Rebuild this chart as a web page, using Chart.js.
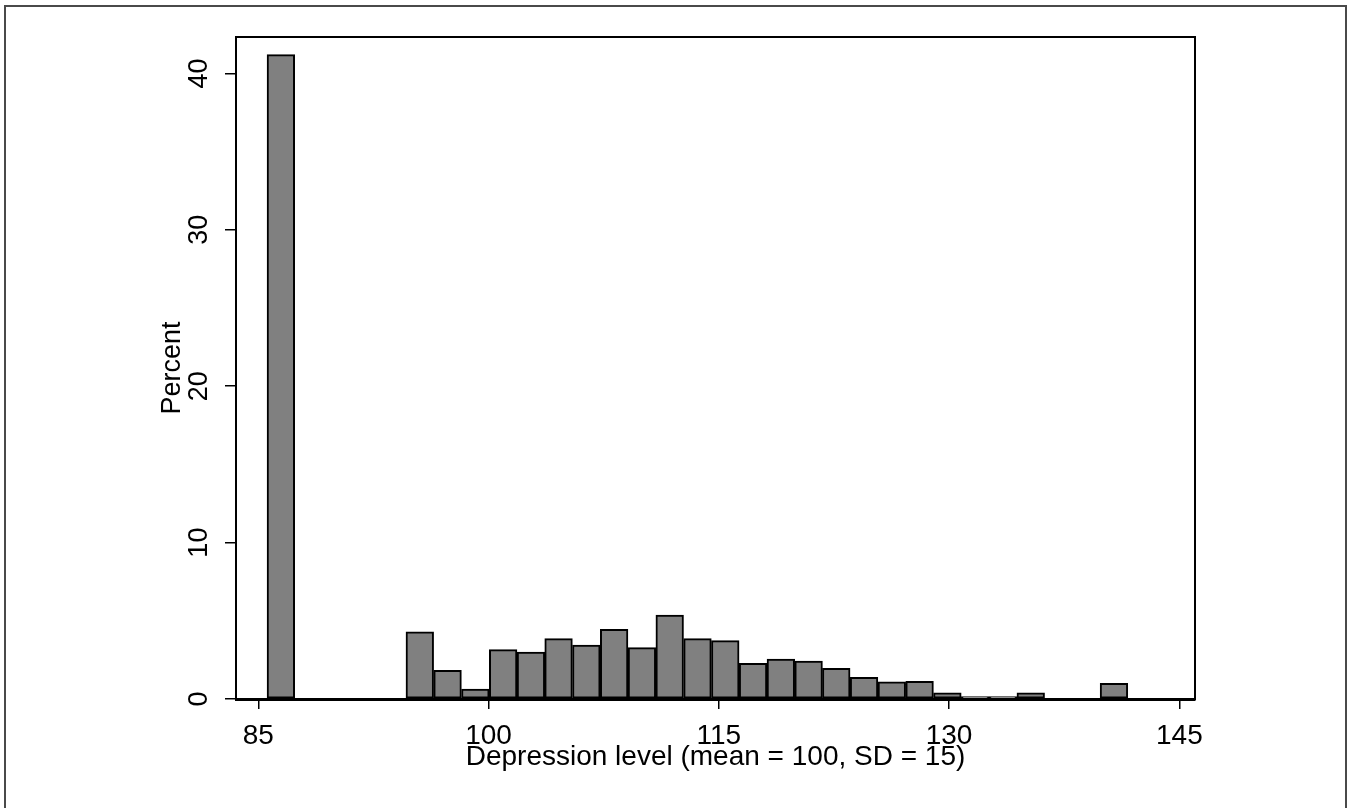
<!DOCTYPE html>
<html>
<head>
<meta charset="utf-8">
<script src="https://cdn.jsdelivr.net/npm/chart.js@4/dist/chart.umd.min.js"></script>
<style>
    body { margin: 0; background: #ffffff; }
    #frame {
        position: absolute;
        left: 4px;
        top: 5px;
        width: 1343px;
        height: 820px;
        border: 2px solid #4a4a4a;
        box-sizing: border-box;
    }
    #hist { position: absolute; left: 0; top: 0; }
</style>
</head>
<body>
<div id="frame"></div>
<canvas id="hist" width="1355" height="808"></canvas>
<script>
// bin midpoints (depression level), bin width ~1.81
const binMids = [86.47, 88.28, 90.09, 91.90, 93.71, 95.52, 97.33, 99.14, 100.95, 102.76,
    104.56, 106.37, 108.18, 109.99, 111.80, 113.61, 115.42, 117.23, 119.04, 120.85,
    122.65, 124.46, 126.27, 128.08, 129.89, 131.70, 133.51, 135.32, 137.13, 138.94, 140.74];
const percents = [41.2, 0, 0, 0, 0, 4.3, 1.83, 0.64, 3.16, 3.0,
    3.86, 3.45, 4.46, 3.28, 5.37, 3.86, 3.73, 2.28, 2.56, 2.43,
    1.96, 1.39, 1.09, 1.13, 0.4, 0.15, 0.15, 0.4, 0, 0, 1.0];
const xTicks = [85, 100, 115, 130, 145];
const yTicks = [0, 10, 20, 30, 40];

document.addEventListener('DOMContentLoaded', () => {
    const ctx = document.getElementById('hist').getContext('2d');

    // box round the plot region
    const plotFrame = {
        id: 'plotFrame',
        afterDraw: (chart) => {
            const { ctx, chartArea } = chart;
            ctx.save();
            ctx.strokeStyle = '#000000';
            ctx.lineWidth = 2;
            ctx.strokeRect(chartArea.left, chartArea.top, chartArea.right - chartArea.left, chartArea.bottom - chartArea.top);
            ctx.restore();
        }
    };

    new Chart(ctx, {
        type: 'bar',
        data: {
            datasets: [{
                data: binMids.map((x, i) => ({ x: x, y: percents[i] })),
                backgroundColor: '#808080',
                borderColor: '#000000',
                borderWidth: 2,
                borderSkipped: false,
                barPercentage: 1,
                categoryPercentage: 1
            }]
        },
        options: {
            responsive: false,
            animation: false,
            devicePixelRatio: 1,
            layout: {
                padding: { top: 37, right: 160, left: 0, bottom: 0 }
            },
            plugins: {
                legend: { display: false },
                tooltip: { enabled: false }
            },
            scales: {
                x: {
                    type: 'linear',
                    offset: false,
                    min: 83.547,
                    max: 146.02,
                    afterBuildTicks: (scale) => { scale.ticks = xTicks.map(v => ({ value: v })); },
                    afterFit: (scale) => { scale.height = 109; },
                    grid: {
                        display: true,
                        offset: false,
                        drawOnChartArea: false,
                        drawTicks: true,
                        tickLength: 10,
                        color: '#000000',
                        lineWidth: 1.5
                    },
                    border: { display: true, color: '#000000', width: 3 },
                    ticks: {
                        color: '#000000',
                        padding: 10,
                        maxRotation: 0,
                        autoSkip: false,
                        font: { family: 'Liberation Sans, Arial, sans-serif', size: 28 }
                    },
                    title: {
                        display: true,
                        text: 'Depression level (mean = 100, SD = 15)',
                        color: '#000000',
                        padding: { top: 0, bottom: 34 },
                        font: { family: 'Liberation Sans, Arial, sans-serif', size: 28 }
                    }
                },
                y: {
                    min: 0,
                    max: 42.33,
                    afterBuildTicks: (scale) => { scale.ticks = yTicks.map(v => ({ value: v })); },
                    afterFit: (scale) => { scale.width = 236; },
                    grid: {
                        display: true,
                        drawOnChartArea: false,
                        drawTicks: true,
                        tickLength: 11,
                        color: '#000000',
                        lineWidth: 1.5
                    },
                    border: { display: true, color: '#000000', width: 2 },
                    ticks: {
                        color: '#000000',
                        padding: 10,
                        minRotation: 90,
                        maxRotation: 90,
                        crossAlign: 'center',
                        font: { family: 'Liberation Sans, Arial, sans-serif', size: 27 }
                    },
                    title: {
                        display: true,
                        text: 'Percent',
                        color: '#000000',
                        padding: { top: 156, bottom: 0 },
                        font: { family: 'Liberation Sans, Arial, sans-serif', size: 27 }
                    }
                }
            }
        },
        plugins: [plotFrame]
    });
});
</script>
</body>
</html>
